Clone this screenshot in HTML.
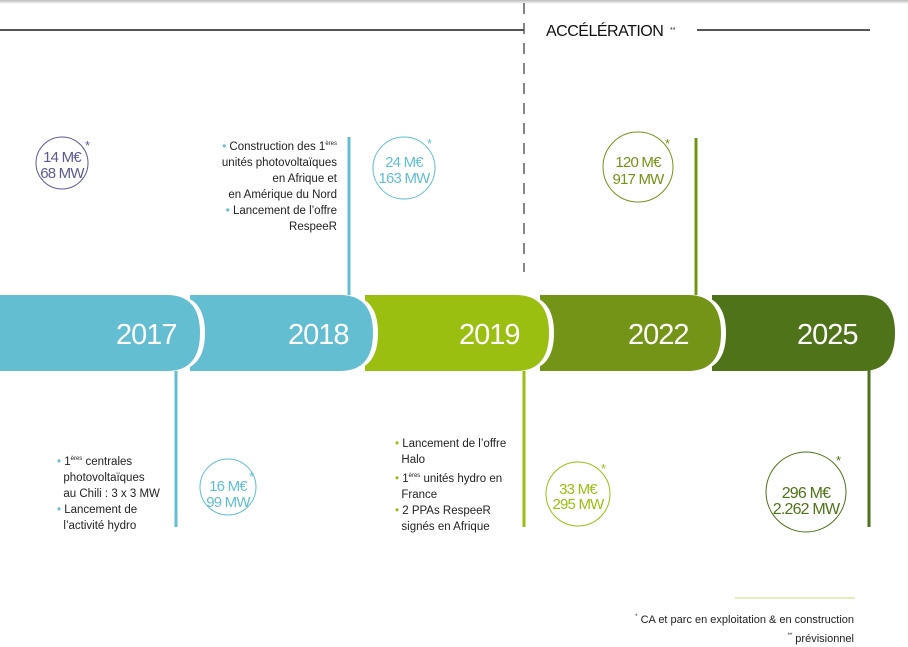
<!DOCTYPE html>
<html><head><meta charset="utf-8"><style>
body{margin:0;width:908px;height:644px;position:relative;background:#fff;font-family:"Liberation Sans",sans-serif;overflow:hidden}
.t{position:absolute;font-size:11.5px;line-height:16px;color:#222}
.b{color:#63bed1}.g{color:#9abf10}
sup{font-size:6px;vertical-align:5px}
</style></head><body>
<div style="position:absolute;left:0;top:0;width:908px;height:4px;background:linear-gradient(#bbb,#fff)"></div>
<svg width="908" height="644" style="position:absolute;left:0;top:0" font-family="Liberation Sans, sans-serif">
<line x1="0" y1="30" x2="524" y2="30" stroke="#555" stroke-width="2"/>
<line x1="697" y1="30" x2="870" y2="30" stroke="#555" stroke-width="2"/>
<line x1="524" y1="3" x2="524" y2="272" stroke="#444" stroke-width="1.3" stroke-dasharray="11,9"/>
<text x="546" y="36" font-size="16" fill="#111" letter-spacing="-0.5">ACCÉLÉRATION</text>
<text x="670" y="32" font-size="7" fill="#111">**</text>
<line x1="349" y1="137" x2="349" y2="298" stroke="#63bed1" stroke-width="3"/>
<line x1="696" y1="138" x2="696" y2="298" stroke="#739417" stroke-width="3"/>
<line x1="176" y1="369" x2="176" y2="527" stroke="#63bed1" stroke-width="3"/>
<line x1="524" y1="369" x2="524" y2="527" stroke="#9abf10" stroke-width="3"/>
<line x1="869" y1="369" x2="869" y2="527" stroke="#4f7318" stroke-width="3"/>
<path d="M712 295 H862 Q895 295 895 333 Q895 371 862 371 H712 Z" fill="#4f7318"/>
<path d="M540 295 H693 Q726 295 726 333 Q726 371 693 371 H540 Z" fill="#fff"/>
<path d="M540 295 H688 Q721 295 721 333 Q721 371 688 371 H540 Z" fill="#739417"/>
<path d="M365 295 H521 Q554 295 554 333 Q554 371 521 371 H365 Z" fill="#fff"/>
<path d="M365 295 H516 Q549 295 549 333 Q549 371 516 371 H365 Z" fill="#9abf10"/>
<path d="M190 295 H345 Q378 295 378 333 Q378 371 345 371 H190 Z" fill="#fff"/>
<path d="M190 295 H340 Q373 295 373 333 Q373 371 340 371 H190 Z" fill="#63bed1"/>
<path d="M-10 295 H172 Q205 295 205 333 Q205 371 172 371 H-10 Z" fill="#fff"/>
<path d="M-10 295 H167 Q200 295 200 333 Q200 371 167 371 H-10 Z" fill="#63bed1"/>
<g font-size="29" fill="#fff" letter-spacing="-1">
<text x="116" y="344">2017</text><text x="288" y="344">2018</text><text x="459" y="344">2019</text><text x="628" y="344">2022</text><text x="797" y="344">2025</text>
</g>
<g fill="none" stroke-width="1">
<circle cx="62" cy="163" r="26" stroke="#5c5a96"/>
<circle cx="404" cy="168" r="31" stroke="#63bed1"/>
<circle cx="638" cy="167" r="35" stroke="#739417"/>
<circle cx="228" cy="487" r="28" stroke="#63bed1"/>
<circle cx="578" cy="494" r="32" stroke="#9abf10"/>
<circle cx="806" cy="492" r="40" stroke="#4f7318"/>
</g>
<g font-size="15" text-anchor="middle" letter-spacing="-0.8">
<text x="62" y="162" fill="#5c5a96">14 M€</text><text x="62" y="178" fill="#5c5a96">68 MW</text>
<text x="404" y="167" fill="#63bed1">24 M€</text><text x="404" y="183" fill="#63bed1">163 MW</text>
<text x="638" y="167" fill="#739417">120 M€</text><text x="638" y="184" fill="#739417">917 MW</text>
<text x="228" y="491" fill="#63bed1">16 M€</text><text x="228" y="507" fill="#63bed1">99 MW</text>
<text x="578" y="494" fill="#9abf10">33 M€</text><text x="578" y="509" fill="#9abf10">295 MW</text>
<text x="806" y="498" fill="#4f7318" font-size="16">296 M€</text><text x="806" y="514" fill="#4f7318" font-size="16">2.262 MW</text>
</g>
<g font-size="13">
<text x="85" y="150" fill="#5c5a96">*</text>
<text x="427" y="148" fill="#63bed1">*</text>
<text x="665" y="148" fill="#739417">*</text>
<text x="249" y="481" fill="#63bed1">*</text>
<text x="601" y="473" fill="#9abf10">*</text>
<text x="836" y="465" fill="#4f7318">*</text>
</g>
<line x1="735" y1="598" x2="855" y2="598" stroke="#c7dd7a" stroke-width="1"/>
</svg>
<div class="t" style="right:571px;top:136px;text-align:right"><span class="b">•</span> Construction des 1<sup>ères</sup><br>unités photovoltaïques<br>en Afrique et<br>en Amérique du Nord<br><span class="b">•</span> Lancement de l’offre<br>RespeeR</div>
<div class="t" style="left:57px;top:451px"><span class="b">•</span> 1<sup>ères</sup> centrales<br>&nbsp;&nbsp;photovoltaïques<br>&nbsp;&nbsp;au Chili : 3 x 3 MW<br><span class="b">•</span> Lancement de<br>&nbsp;&nbsp;l’activité hydro</div>
<div class="t" style="left:395px;top:436px"><span class="g">•</span> Lancement de l’offre<br>&nbsp;&nbsp;Halo<br><span class="g">•</span> 1<sup>ères</sup> unités hydro en<br>&nbsp;&nbsp;France<br><span class="g">•</span> 2 PPAs RespeeR<br>&nbsp;&nbsp;signés en Afrique</div>
<div class="t" style="right:54px;top:609px;text-align:right;font-size:11px;line-height:16px"><sup>*</sup> CA et parc en exploitation &amp; en construction<br><sup>**</sup> prévisionnel</div>
</body></html>
